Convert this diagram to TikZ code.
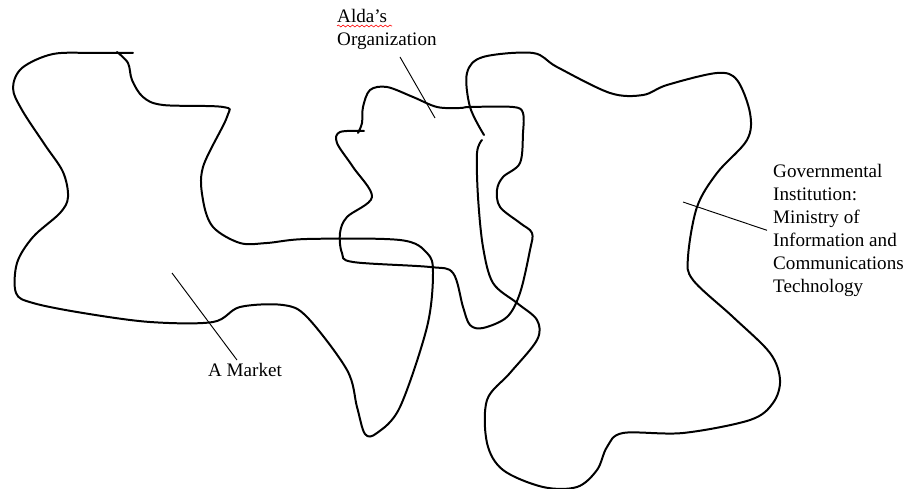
\documentclass[tikz,border=0pt]{standalone}
\usepackage{fontspec}
\setmainfont{Liberation Serif}
\usetikzlibrary{decorations.pathmorphing}

\tikzset{
  region/.style={line width=1.7pt, line cap=round, line join=round},
  leader/.style={line width=0.8pt},
  lbl/.style={inner sep=0pt, align=left, font=\fontsize{16.3}{19.6}\selectfont}
}

\begin{document}
\begin{tikzpicture}[x=0.03cm,y=-0.03cm]
  \useasboundingbox (0,0) rectangle (908,489);

  % Market region
  \draw[region] plot[smooth, tension=0.55] coordinates {
    (133,53) (95,53) (53,54) (22,68) (13,88) (22,110) (45,145) (63,172)
    (68,197) (60,213) (33,237) (17,263) (16,293) (33,303) (83,313)
    (150,322) (213,322) (240,307) (283,305) (307,317) (347,370)
    (357,407) (365,434) (377,433) (400,407) (427,327) (433,273)
    (427,253) (400,240) (307,239) (267,243) (240,243) (213,227)
    (203,200) (203,167) (227,117) (223,107) (163,105) (143,97)
    (132,80) (128,63) (117,52)};

  % Alda's organization region
  \draw[region] plot[smooth, tension=0.55] coordinates {
    (364,131) (340,132) (337,143) (353,167) (372,197) (347,217)
    (340,233) (342,253) (353,262) (430,267) (453,273) (463,307)
    (470,325) (483,328) (507,317) (520,293) (530,250) (532,233)
    (520,223) (500,207) (497,190) (503,177) (520,163) (523,133)
    (523,113) (513,107) (470,107) (460,108) (437,107) (413,97)
    (387,87) (370,90) (363,107) (362,123) (358,133)};

  % Governmental institution region
  \draw[region] plot[smooth, tension=0.55] coordinates {
    (484,135) (470,107) (467,73) (483,57) (533,53) (557,67) (610,93)
    (643,95) (667,85) (717,73) (737,80) (750,113) (747,140) (717,173)
    (697,207) (688,257) (693,280) (733,317) (770,353) (780,380)
    (773,403) (750,420) (683,433) (623,433) (607,447) (597,470)
    (577,487) (543,487) (503,470) (487,443) (487,400) (510,373)
    (537,340) (537,320) (517,303) (493,283) (483,247) (478,197)
    (477,153) (482,140)};

  % Labels
  \node[lbl, anchor=north west] (alda) at (337,9) {Alda's\\Organization};
  \node[lbl] (market) at (245,370) {A Market};
  \node[lbl, anchor=north west] (gov) at (773,164)
    {Governmental\\Institution:\\Ministry of\\Information and\\Communications\\Technology};

  % spell-check squiggle
  \draw[red, line width=0.5pt, decorate,
    decoration={snake, segment length=4, amplitude=0.8}] (337,26) -- (392,26);

  % Leader lines
  \coordinate (aldain) at (435,118);
  \coordinate (marketin) at (172,273);
  \coordinate (govin) at (683,202);
  \draw[leader] (400,57) -- (aldain);
  \draw[leader] (market.north) ++(-8,-3) -- (marketin);
  \draw[leader] (gov.west) ++(-6,0) coordinate (govend) -- (govin);
\end{tikzpicture}
\end{document}
